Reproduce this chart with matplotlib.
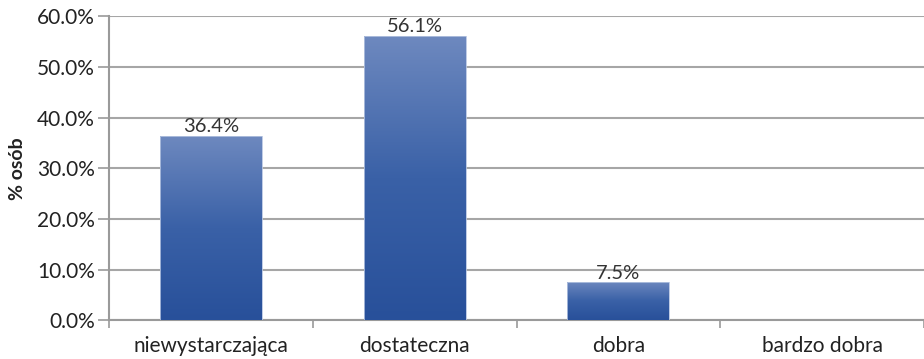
import numpy as np
import matplotlib.pyplot as plt
from matplotlib.colors import LinearSegmentedColormap

categories = ['niewystarczająca', 'dostateczna', 'dobra', 'bardzo dobra']
values = [36.4, 56.1, 7.5, 0.0]
labels = ['36.4%', '56.1%', '7.5%', '']

plt.rcParams['font.family'] = ['Lato', 'DejaVu Sans']

fig = plt.figure(figsize=(9.24, 3.59), dpi=100)
ax = fig.add_axes([0.118, 0.108, 0.882, 0.847])

x = np.arange(len(categories))
bars = ax.bar(x, values, width=0.5, color='none', edgecolor='none', zorder=3)

# vertical gradient fill for each bar, lighter at the top
cmap = LinearSegmentedColormap.from_list('bluegrad', ['#28509a', '#3a61a7', '#6e89bf'])
grad = np.linspace(0, 1, 256).reshape(-1, 1)
for b, v in zip(bars, values):
    if v <= 0:
        continue
    x0 = b.get_x()
    w = b.get_width()
    im = ax.imshow(grad, cmap=cmap, origin='lower', aspect='auto',
                   extent=[x0, x0 + w, 0, v], zorder=3)
    im.set_clip_path(b)
    ax.plot([x0, x0 + w, x0 + w, x0, x0], [0, 0, v, v, 0],
            color='#b4c3e0', lw=0.6, zorder=4)

for xi, v, lab in zip(x, values, labels):
    if lab:
        ax.text(xi, v + 0.1, lab, ha='center', va='bottom', fontsize=14.5,
                color='#333333', zorder=5)

ax.set_xlim(-0.5, 3.5)
ax.set_ylim(0, 60)
ax.set_yticks(np.arange(0, 61, 10))
ax.set_yticklabels(['%.1f%%' % t for t in np.arange(0, 61, 10)])
ax.yaxis.grid(True, color='#a6a6a6', lw=1.5, zorder=0)
ax.set_axisbelow(True)

ax.set_xticks(x)
ax.set_xticklabels(categories)
ax.set_xticks(np.arange(-0.5, 3.6, 1), minor=True)
ax.tick_params(axis='x', which='major', length=0, pad=11, labelsize=15,
               labelcolor='#222222')
ax.tick_params(axis='x', which='minor', length=6, width=1.2, color='#9a9a9a',
               direction='out')
ax.tick_params(axis='y', length=8, width=1.2, color='#9a9a9a', pad=2,
               labelsize=15, labelcolor='#222222')

for s in ['top', 'right']:
    ax.spines[s].set_visible(False)
ax.spines['left'].set_color('#9a9a9a')
ax.spines['left'].set_linewidth(1.5)
ax.spines['bottom'].set_color('#9a9a9a')
ax.spines['bottom'].set_linewidth(1.5)

ax.set_ylabel('% osób', fontsize=14, fontweight='bold', color='#222222',
              labelpad=8)

fig.savefig('out.png', dpi=100, facecolor='white')
